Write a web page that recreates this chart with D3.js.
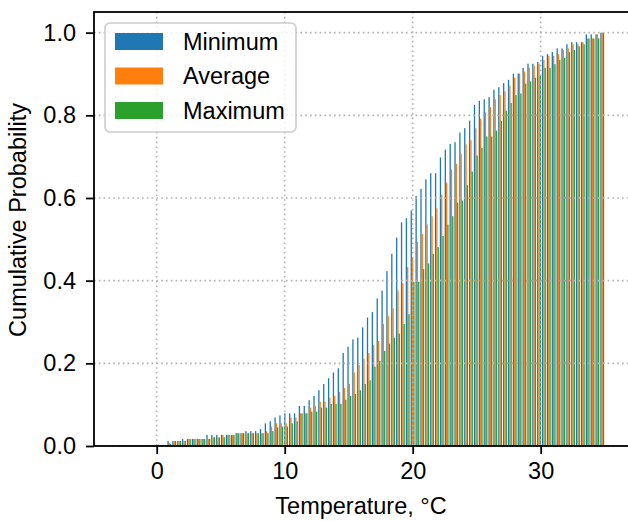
<!DOCTYPE html>
<html>
<head>
<meta charset="utf-8">
<script src="https://cdn.jsdelivr.net/npm/d3@7"></script>
<style>
  html, body { margin: 0; padding: 0; background: #fff; }
  svg { display: block; }
  text { font-family: "Liberation Sans", Arial, sans-serif; fill: #000; }
</style>
</head>
<body>
<svg id="chart" width="628" height="521"></svg>
<script>
// ---- data (cumulative probability per 0.38 °C bin from -3 °C to 35 °C, 100 bins) ----
const binRange = [-3, 35];
const seriesNames = ["Minimum", "Average", "Maximum"];
const seriesColors = ["#1f77b4", "#ff7f0e", "#2ca02c"];

const minimumValues = [
  .001,.001,.002,.002,.002,.002,.002,.002,.003,.003,
  .012,.012,.012,.017,.017,.017,.017,.017,.027,.027,
  .027,.027,.027,.027,.031,.031,.036,.036,.036,.041,
  .055,.060,.069,.074,.079,.079,.079,.097,.097,.111,
  .121,.135,.150,.164,.178,.188,.225,.240,.258,.262,
  .287,.311,.324,.357,.376,.423,.465,.504,.541,.551,
  .570,.605,.622,.645,.660,.660,.698,.717,.731,.735,
  .758,.769,.787,.825,.835,.839,.844,.862,.868,.878,
  .886,.901,.901,.915,.925,.925,.929,.944,.948,.953,
  .962,.962,.972,.977,.977,.977,.996,.996,.996,1.0
];
const averageValues = [
  .001,.001,.001,.001,.001,.001,.001,.002,.002,.002,
  .007,.012,.012,.012,.017,.017,.017,.017,.017,.021,
  .021,.027,.027,.027,.031,.031,.031,.031,.031,.031,
  .036,.047,.055,.055,.055,.069,.069,.079,.079,.093,
  .097,.107,.107,.117,.121,.131,.140,.150,.178,.196,
  .211,.225,.244,.254,.295,.314,.333,.376,.394,.433,
  .455,.494,.513,.536,.556,.575,.608,.637,.669,.683,
  .707,.730,.740,.769,.792,.807,.820,.839,.849,.858,
  .872,.891,.901,.906,.915,.920,.925,.934,.944,.944,
  .948,.958,.962,.972,.972,.977,.986,.986,.996,1.0
];
const maximumValues = [
  .001,.001,.001,.001,.001,.001,.001,.001,.002,.002,
  .005,.012,.012,.012,.017,.017,.017,.017,.017,.021,
  .021,.021,.027,.027,.031,.031,.031,.031,.031,.031,
  .031,.036,.045,.047,.047,.055,.060,.079,.079,.083,
  .083,.093,.093,.102,.102,.102,.112,.121,.126,.135,
  .150,.159,.192,.206,.230,.248,.262,.272,.295,.319,
  .397,.397,.428,.442,.465,.481,.508,.536,.556,.589,
  .594,.631,.664,.703,.721,.749,.749,.763,.787,.811,
  .830,.849,.853,.877,.882,.891,.896,.915,.915,.924,
  .934,.939,.953,.958,.967,.972,.986,.986,.986,1.0
];
const xTicks = [0, 10, 20, 30];
const yTicks = [0.0, 0.2, 0.4, 0.6, 0.8, 1.0];
const xLabel = "Temperature, °C";
const yLabel = "Cumulative Probability";

// ---- layout ----
const W = 628, H = 521;
const L = 94, R = 629, T = 12, B = 446;
const FS = 23.5;

const svg = d3.select("#chart");

const x = d3.scaleLinear().domain([-4.9, 36.9]).range([L, R]);
const y = d3.scaleLinear().domain([0, 1.05]).range([B, T]);

const allSeries = [minimumValues, averageValues, maximumValues];
const binIdx = d3.range(minimumValues.length);
const bins = d3.scaleBand().domain(binIdx)
  .range([x(binRange[0]), x(binRange[1])])
  .paddingInner(0.2).paddingOuter(0.1);
const sub = d3.scaleBand().domain(d3.range(allSeries.length)).range([0, bins.bandwidth()]);

svg.append("defs").append("clipPath").attr("id", "plotclip")
  .append("rect").attr("x", L).attr("y", T).attr("width", R - L).attr("height", B - T);

// bars
const gBars = svg.append("g").attr("clip-path", "url(#plotclip)");
allSeries.forEach((vals, s) => {
  gBars.append("g").attr("fill", seriesColors[s])
    .selectAll("rect").data(vals).join("rect")
    .attr("x", (d, i) => bins(i) + sub(s))
    .attr("width", sub.bandwidth())
    .attr("y", d => y(d))
    .attr("height", d => y(0) - y(d));
});

// grid (above bars, as matplotlib default)
const gGrid = svg.append("g").attr("stroke", "#b0b0b0").attr("stroke-width", 1.6)
  .attr("stroke-dasharray", "1.6,3.2").attr("fill", "none");
xTicks.forEach(t => gGrid.append("line").attr("x1", x(t)).attr("x2", x(t)).attr("y1", T).attr("y2", B));
yTicks.forEach(t => gGrid.append("line").attr("x1", L).attr("x2", R).attr("y1", y(t)).attr("y2", y(t)));

// axes
const xAxis = d3.axisBottom(x).tickValues(xTicks).tickFormat(d3.format("d")).tickSize(8).tickPadding(8);
const yAxis = d3.axisLeft(y).tickValues(yTicks).tickFormat(d3.format(".1f")).tickSize(8).tickPadding(10);

const gx = svg.append("g").attr("transform", `translate(0,${B})`).call(xAxis);
const gy = svg.append("g").attr("transform", `translate(${L},0)`).call(yAxis);
[gx, gy].forEach(g => {
  g.select(".domain").remove();
  g.selectAll(".tick line").attr("stroke", "#000").attr("stroke-width", 1.8);
  g.selectAll(".tick text").attr("font-size", FS).attr("font-family", "Liberation Sans, Arial, sans-serif").attr("fill", "#000");
});

// spines
const gSp = svg.append("g").attr("stroke", "#000").attr("stroke-width", 1.8).attr("fill", "none");
gSp.append("rect").attr("x", L).attr("y", T).attr("width", R - L).attr("height", B - T);

// axis labels
svg.append("text").attr("x", 361).attr("y", 514).attr("text-anchor", "middle")
  .attr("font-size", FS).text(xLabel);
svg.append("text").attr("transform", `translate(26,${220}) rotate(-90)`)
  .attr("text-anchor", "middle").attr("font-size", FS).text(yLabel);

// legend
const lg = svg.append("g");
lg.append("rect").attr("x", 105).attr("y", 23).attr("width", 191).attr("height", 109)
  .attr("rx", 5).attr("fill", "#fff").attr("fill-opacity", 0.8)
  .attr("stroke", "#cccccc").attr("stroke-width", 1.6);
seriesNames.forEach((n, i) => {
  const cy = 41.5 + i * 34.5;
  lg.append("rect").attr("x", 115).attr("y", cy - 8.5).attr("width", 48).attr("height", 17)
    .attr("fill", seriesColors[i]);
  lg.append("text").attr("x", 183).attr("y", cy).attr("dy", "0.36em")
    .attr("font-size", FS).text(n);
});
</script>
</body>
</html>
